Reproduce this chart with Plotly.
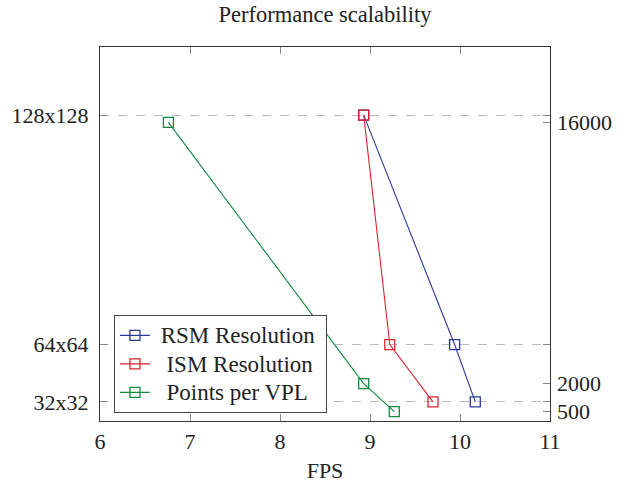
import plotly.graph_objects as go

# Data
res_labels = ["32x32", "64x64", "128x128"]
res_values = [1024, 4096, 16384]
rsm_fps = [10.17, 9.94, 8.93]
ism_fps = [9.70, 9.22, 8.93]
vpl_points = [500, 2000, 16000]
vpl_fps = [9.27, 8.93, 6.76]
x_ticks = [6, 7, 8, 9, 10, 11]
series_names = ["RSM Resolution", "ISM Resolution", "Points per VPL"]

FONT = "Liberation Serif, Times New Roman, serif"
blue = "#2b3a98"
red = "#dc2430"
green = "#0f8a3e"


def lname(s, lead, trail):
    return ('<span style="font-size:23px">' + "&nbsp;" * lead + s + "&nbsp;" * trail + "</span>")


fig = go.Figure()
fig.add_trace(go.Scatter(x=rsm_fps, y=res_values, name=lname(series_names[0], 1, 1), mode="lines+markers",
                         line=dict(color=blue, width=1.1),
                         marker=dict(symbol="square-open", size=10, color=blue, line=dict(width=1.3))))
fig.add_trace(go.Scatter(x=ism_fps, y=res_values, name=lname(series_names[1], 2, 1), mode="lines+markers",
                         line=dict(color=red, width=1.1),
                         marker=dict(symbol="square-open", size=10, color=red, line=dict(width=1.3))))
fig.add_trace(go.Scatter(x=vpl_fps, y=vpl_points, name=lname(series_names[2], 2, 1), mode="lines+markers",
                         yaxis="y2",
                         line=dict(color=green, width=1.1),
                         marker=dict(symbol="square-open", size=10, color=green, line=dict(width=1.3))))

yr = [0, 20036]
fig.update_layout(
    width=639, height=483,
    margin=dict(l=100, r=89, t=47, b=62),
    paper_bgcolor="white", plot_bgcolor="white",
    font=dict(family=FONT, size=21, color="#222"),
    title=dict(text="Performance scalability", x=0.5086, xanchor="center", y=0.970, yanchor="middle",
               font=dict(family=FONT, size=22.5, color="#222")),
    xaxis=dict(range=[6, 11], tickvals=x_ticks, ticks="inside", ticklen=7, tickcolor="#888",
               showline=True, linecolor="#333", linewidth=1.3, mirror="ticks", showgrid=False,
               zeroline=False, title=dict(text="FPS", standoff=14, font=dict(size=22)),
               tickfont=dict(size=22), automargin=False),
    yaxis=dict(range=yr, tickvals=res_values, ticktext=res_labels, ticks="inside", ticklen=7,
               tickcolor="#888", showline=True, linecolor="#333", linewidth=1.3, mirror="ticks",
               showgrid=True, gridcolor="#bbbbbb", griddash="dash", gridwidth=1, zeroline=False,
               tickfont=dict(size=22), ticklabelstandoff=6, automargin=False),
    yaxis2=dict(range=yr, overlaying="y", side="right", tickvals=vpl_points,
                ticktext=[str(v) for v in vpl_points], ticks="inside", ticklen=7, tickcolor="#888",
                showgrid=False, zeroline=False, showline=False, tickfont=dict(size=22),
                ticklabelstandoff=6, automargin=False),
    legend=dict(x=0.031, y=0.283, xanchor="left", yanchor="top", bgcolor="white",
                bordercolor="#444", borderwidth=1, font=dict(family=FONT, size=19.6, color="#222"),
                tracegroupgap=0),
    showlegend=True,
)
fig.write_html("out.html")
